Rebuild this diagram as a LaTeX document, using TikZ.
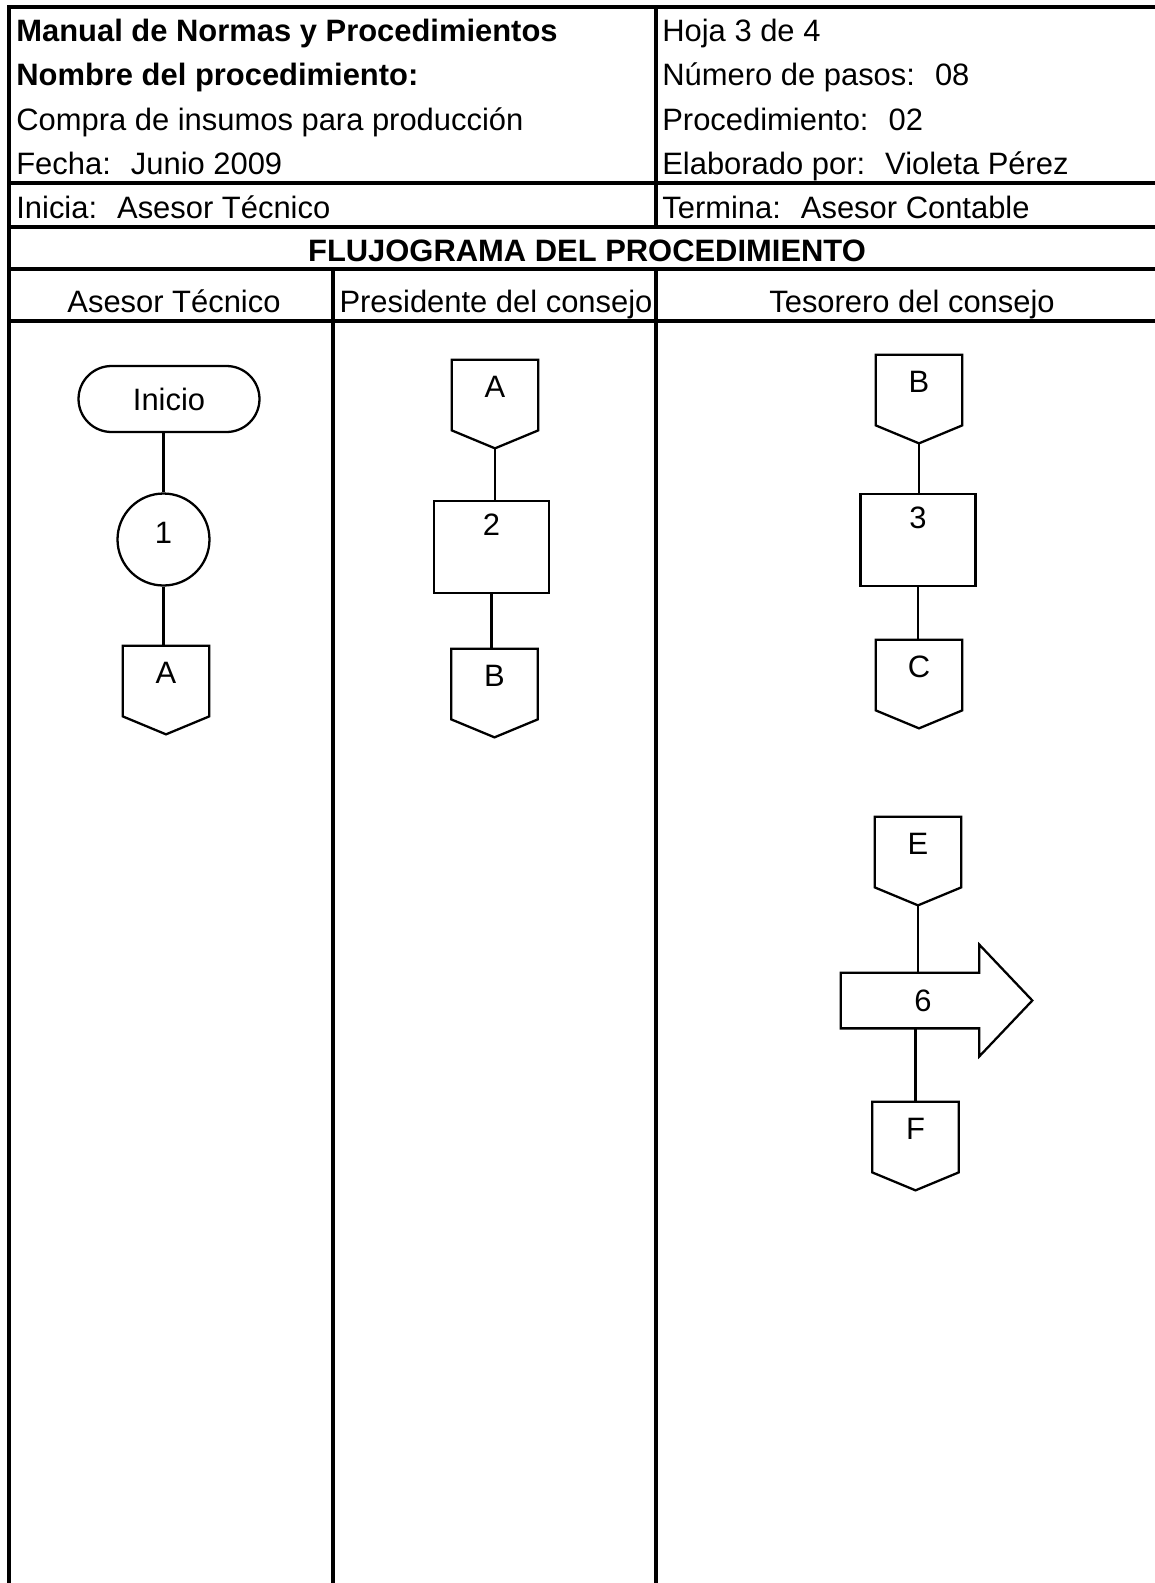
\documentclass[tikz,border=0pt]{standalone}
\usepackage{fontspec}
\setmainfont{Liberation Sans}
\usetikzlibrary{shapes.misc}

\tikzset{
  every node/.style={font=\fontsize{17.6}{20}\selectfont},
  frame/.style={line width=1.8pt},
  shape line/.style={line width=1.3pt},
  cell/.style={anchor=base west, inner sep=0pt},
  lane/.style={anchor=base, inner sep=0pt},
  terminal/.style={rounded rectangle, draw, shape line, minimum width=3.62cm, minimum height=1.32cm, inner sep=0pt},
  actcircle/.style={circle, draw, shape line, minimum size=1.84cm, inner sep=0pt, text height=0.42cm, text depth=0.28cm},
  actbox/.style={rectangle, draw, shape line, minimum width=2.3cm, minimum height=1.84cm, inner sep=0pt, text height=0.42cm, text depth=0.88cm},
  offpage/.style={rectangle, minimum width=1.72cm, minimum height=1.4cm, inner sep=0pt, text height=0.42cm, text depth=0.32cm},
  actarrow/.style={rectangle, minimum width=2.76cm, minimum height=1.1cm, inner sep=0pt}
}

% off-page connector: name, position, letter
\newcommand{\offpage}[3]{%
  \node[offpage] (#1) at (#2) {#3};
  \coordinate (#1-tip) at ([yshift=-0.36cm]#1.south);
  \draw[shape line] (#1.north west) -- (#1.south west) -- (#1-tip) -- (#1.south east) -- (#1.north east) -- cycle;
}

\begin{document}
\begin{tikzpicture}[x=0.02cm,y=-0.02cm]
\useasboundingbox (0,0) rectangle (1154,1583);

% Table
\draw[frame] (9,1583) -- (9,7) -- (1160,7);
\draw[frame] (9,183) -- (1160,183);
\draw[frame] (9,227) -- (1160,227);
\draw[frame] (9,269) -- (1160,269);
\draw[frame] (9,321) -- (1160,321);
\draw[frame] (656,7) -- (656,227);
\draw[frame] (656,269) -- (656,1583);
\draw[frame] (333,269) -- (333,1583);

% Header
\node[cell] (manual) at (16,41) {\bfseries Manual de Normas y Procedimientos};
\node[cell] (nombre) at (16,85) {\bfseries Nombre del procedimiento:};
\node[cell] (compra) at (16,130) {Compra de insumos para producción};
\node[cell] (fecha) at (16,174) {Fecha:~ Junio 2009};
\node[cell] (inicia) at (16,218) {Inicia:~ Asesor Técnico};
\node[cell] (hoja) at (662,41) {Hoja 3 de 4};
\node[cell] (pasos) at (662,85) {Número de pasos:~ 08};
\node[cell] (proc) at (662,130) {Procedimiento:~ 02};
\node[cell] (elab) at (662,174) {Elaborado por:~ Violeta Pérez};
\node[cell] (termina) at (662,218) {Termina:~ Asesor Contable};
\node[lane] (flujo) at (587,261) {\bfseries FLUJOGRAMA DEL PROCEDIMIENTO};

% Lanes
\node[lane] (asesor) at (174,312) {Asesor Técnico};
\node[lane] (presidente) at (496,312) {Presidente del consejo};
\node[lane] (tesorero) at (912,312) {Tesorero del consejo};

% Asesor Tecnico
\node[terminal] (inicio) at (169,399) {Inicio};
\node[actcircle] (act1) at (163.5,539.5) {1};
\offpage{conA1}{166,681}{A}
\draw[shape line] (inicio.south -| act1.north) -- (act1.north);
\draw[shape line] (act1.south) -- (act1.south |- conA1.north);

% Presidente del consejo
\offpage{conA2}{495,395}{A}
\node[actbox] (act2) at (491.5,547) {2};
\offpage{conB1}{494.5,684}{B}
\draw[shape line] (conA2-tip) -- (conA2-tip |- act2.north);
\draw[shape line] (act2.south) -- (act2.south |- conB1.north);

% Tesorero del consejo
\offpage{conB2}{919,390}{B}
\node[actbox] (act3) at (918,540) {3};
\offpage{conC}{919,675}{C}
\draw[shape line] (conB2-tip) -- (conB2-tip |- act3.north);
\draw[shape line] (act3.south) -- (act3.south |- conC.north);

\offpage{conE}{918,852}{E}
\node[actarrow] (act6) at (910,1000.5) {\hspace*{0.52cm}6};
\draw[shape line] (act6.north west) -- (act6.north east) -- ++(0,-28) -- ([xshift=1.06cm]act6.east)
  -- ([yshift=-0.56cm]act6.south east) -- (act6.south east) -- (act6.south west) -- cycle;
\offpage{conF}{915.5,1137}{F}
\draw[shape line] (conE-tip) -- (conE-tip |- act6.north);
\draw[shape line] (conF.north |- act6.south) -- (conF.north);

\end{tikzpicture}
\end{document}
